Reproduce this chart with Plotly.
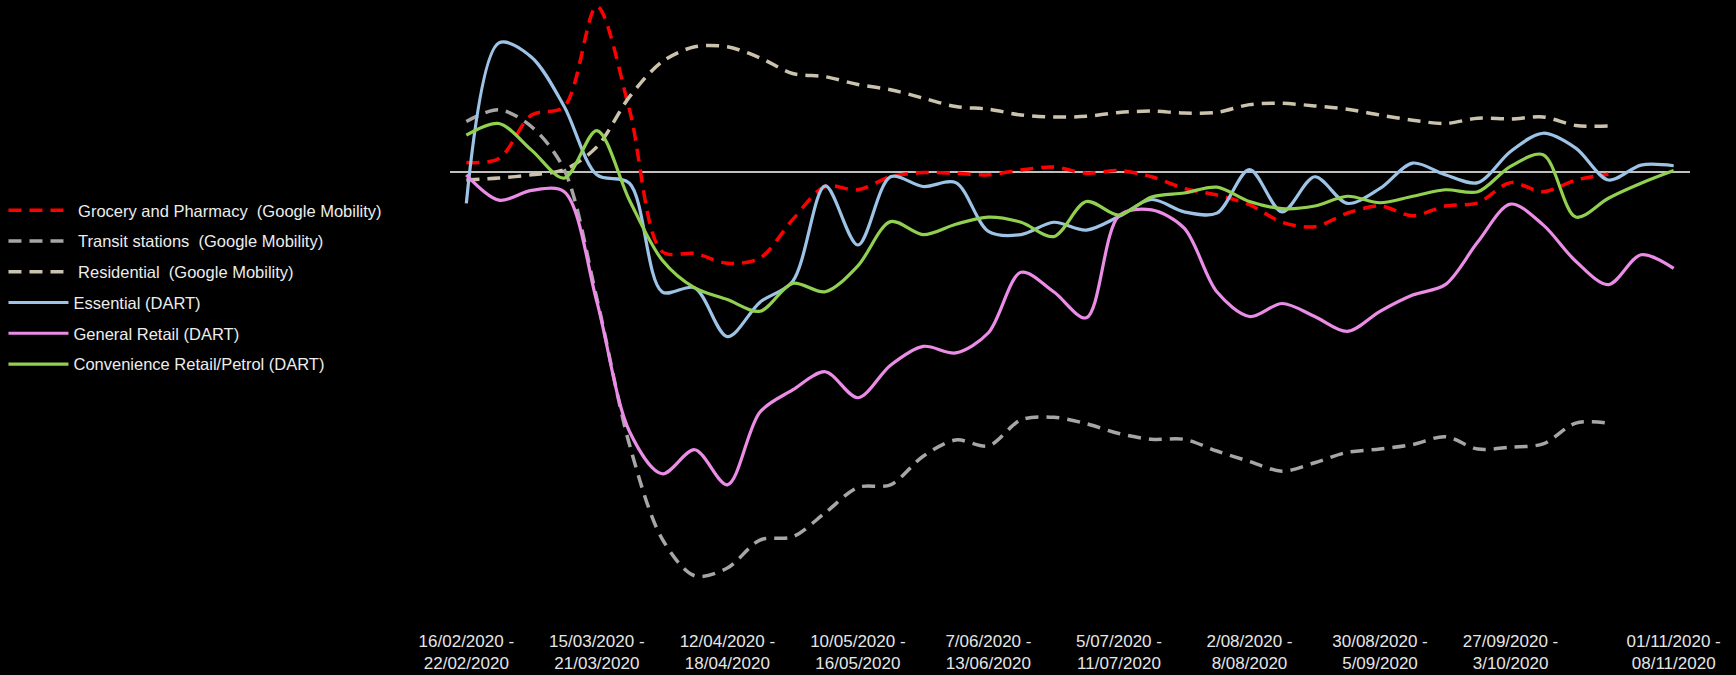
import plotly.graph_objects as go

# Weekly periods (Sunday to Saturday), 16 Feb 2020 - 8 Nov 2020
weeks = [
    "16/02/2020 -<br>22/02/2020", "23/02/2020 -<br>29/02/2020", "1/03/2020 -<br>7/03/2020",
    "8/03/2020 -<br>14/03/2020", "15/03/2020 -<br>21/03/2020", "22/03/2020 -<br>28/03/2020",
    "29/03/2020 -<br>4/04/2020", "5/04/2020 -<br>11/04/2020", "12/04/2020 -<br>18/04/2020",
    "19/04/2020 -<br>25/04/2020", "26/04/2020 -<br>2/05/2020", "3/05/2020 -<br>9/05/2020",
    "10/05/2020 -<br>16/05/2020", "17/05/2020 -<br>23/05/2020", "24/05/2020 -<br>30/05/2020",
    "31/05/2020 -<br>6/06/2020", "7/06/2020 -<br>13/06/2020", "14/06/2020 -<br>20/06/2020",
    "21/06/2020 -<br>27/06/2020", "28/06/2020 -<br>4/07/2020", "5/07/2020 -<br>11/07/2020",
    "12/07/2020 -<br>18/07/2020", "19/07/2020 -<br>25/07/2020", "26/07/2020 -<br>1/08/2020",
    "2/08/2020 -<br>8/08/2020", "9/08/2020 -<br>15/08/2020", "16/08/2020 -<br>22/08/2020",
    "23/08/2020 -<br>29/08/2020", "30/08/2020 -<br>5/09/2020", "6/09/2020 -<br>12/09/2020",
    "13/09/2020 -<br>19/09/2020", "20/09/2020 -<br>26/09/2020", "27/09/2020 -<br>3/10/2020",
    "4/10/2020 -<br>10/10/2020", "11/10/2020 -<br>17/10/2020", "18/10/2020 -<br>24/10/2020",
    "25/10/2020 -<br>31/10/2020", "01/11/2020 -<br>08/11/2020",
]
labelled_weeks = [0, 4, 8, 12, 16, 20, 24, 28, 32, 37]

# Google Mobility, % change from baseline (available to week of 18/10)
grocery = [1.4, 2.0, 8.7, 10.0, 25.4, 9.5, -12.3, -12.6, -14.1, -13.3, -7.4, -2.3,
           -2.8, -0.8, -0.15, -0.25, -0.5, 0.25, 0.7, -0.25, 0.15, -0.8, -2.6, -3.6,
           -5.1, -7.8, -8.5, -6.4, -5.3, -6.8, -5.3, -4.8, -1.7, -3.1, -1.3, -0.4]
transit = [7.7, 9.5, 6.9, 0.3, -19.5, -42.0, -56.5, -62.2, -61.0, -56.7, -56.2, -52.5,
           -48.6, -48.2, -43.8, -41.3, -42.2, -38.2, -37.8, -38.8, -40.3, -41.2, -41.2, -43.0,
           -44.6, -46.1, -44.8, -43.2, -42.7, -42.0, -40.8, -42.7, -42.4, -41.9, -38.7, -38.7]
residential = [-1.3, -1.0, -0.5, 0.3, 3.8, 11.5, 16.9, 19.2, 19.2, 17.5, 15.1, 14.6,
               13.4, 12.6, 11.3, 10.0, 9.6, 8.7, 8.4, 8.5, 9.1, 9.3, 9.0, 9.1,
               10.3, 10.5, 10.1, 9.6, 8.7, 7.9, 7.4, 8.2, 8.1, 8.4, 7.1, 7.0]

# DART spending indices
essential = [-4.9, 19.8, 17.6, 10.0, -0.5, -1.8, -18.5, -17.9, -25.4, -20.1, -16.9, -2.2,
             -11.3, -0.8, -2.3, -1.7, -9.2, -9.7, -7.8, -9.0, -6.9, -4.3, -6.2, -6.4,
             0.3, -6.2, -0.8, -4.9, -2.6, 1.3, -0.5, -1.7, 3.1, 5.9, 3.6, -1.3, 1.0, 0.9]
general_retail = [-0.5, -4.4, -2.9, -3.1, -20.0, -40.0, -46.5, -42.8, -48.2, -37.0, -33.6, -30.8,
                  -34.8, -29.8, -26.9, -27.9, -24.8, -15.5, -18.5, -22.5, -6.8, -5.9, -8.7, -18.5,
                  -22.3, -20.3, -22.3, -24.6, -21.5, -19.0, -17.4, -10.8, -5.0, -8.2, -13.8, -17.4,
                  -12.8, -14.9]
convenience = [5.6, 7.4, 3.3, -1.0, 6.3, -4.4, -13.6, -17.9, -19.7, -21.5, -17.2, -18.5,
               -14.5, -7.7, -9.7, -8.1, -7.0, -7.8, -10.0, -4.6, -6.7, -3.9, -3.3, -2.4,
               -4.6, -5.7, -5.3, -3.8, -4.8, -3.8, -2.8, -3.1, 0.8, 2.6, -7.0, -4.1, -1.8, 0.15]

FONT = "Liberation Sans, Arial, sans-serif"

series = [
    ("\u00a0Grocery and Pharmacy \u00a0(Google Mobility)", grocery, "#FF0000", "13px,8px", 3.5),
    ("\u00a0Transit stations \u00a0(Google Mobility)", transit, "#A6A6A6", "13px,8px", 3.5),
    ("\u00a0Residential \u00a0(Google Mobility)", residential, "#CBC3AD", "13px,8px", 3.5),
    ("Essential (DART)", essential, "#9DC3E6", "solid", 3.2),
    ("General Retail (DART)", general_retail, "#EB8CE6", "solid", 3.2),
    ("Convenience Retail/Petrol (DART)", convenience, "#92D050", "solid", 3.2),
]

fig = go.Figure()
for i, (name, values, color, dash, width) in enumerate(series):
    fig.add_trace(go.Scatter(
        x=weeks[:len(values)], y=values, name=name, mode="lines",
        line=dict(color=color, width=width, dash=dash, shape="spline", smoothing=0.9),
        legendgroup=f"g{i}", hoverinfo="skip",
    ))

fig.update_layout(
    width=1736, height=675, autosize=False,
    paper_bgcolor="black", plot_bgcolor="black",
    margin=dict(l=450, r=46, t=0, b=55),
    font=dict(family=FONT, color="#E6E6E6"),
    showlegend=True,
    legend=dict(
        xref="container", yref="container", x=0.002, y=0.714,
        xanchor="left", yanchor="top",
        bgcolor="rgba(0,0,0,0)", borderwidth=0,
        font=dict(family=FONT, size=16.5, color="#EDEDED"),
        traceorder="grouped", tracegroupgap=6.3, itemwidth=60,
    ),
    xaxis=dict(
        type="category", range=[-0.5, 37.5],
        tickmode="array", tickvals=[weeks[k] for k in labelled_weeks],
        ticktext=[weeks[k] for k in labelled_weeks],
        showgrid=False, zeroline=False, showline=False, ticks="",
        ticklabelstandoff=9,
        tickfont=dict(family=FONT, size=17, color="#E6E6E6"),
    ),
    yaxis=dict(
        range=[-69.0, 26.4], showgrid=False, showticklabels=False, ticks="",
        zeroline=True, zerolinecolor="#BFBFBF", zerolinewidth=1.5, showline=False,
    ),
)

fig.write_html("out.html")
